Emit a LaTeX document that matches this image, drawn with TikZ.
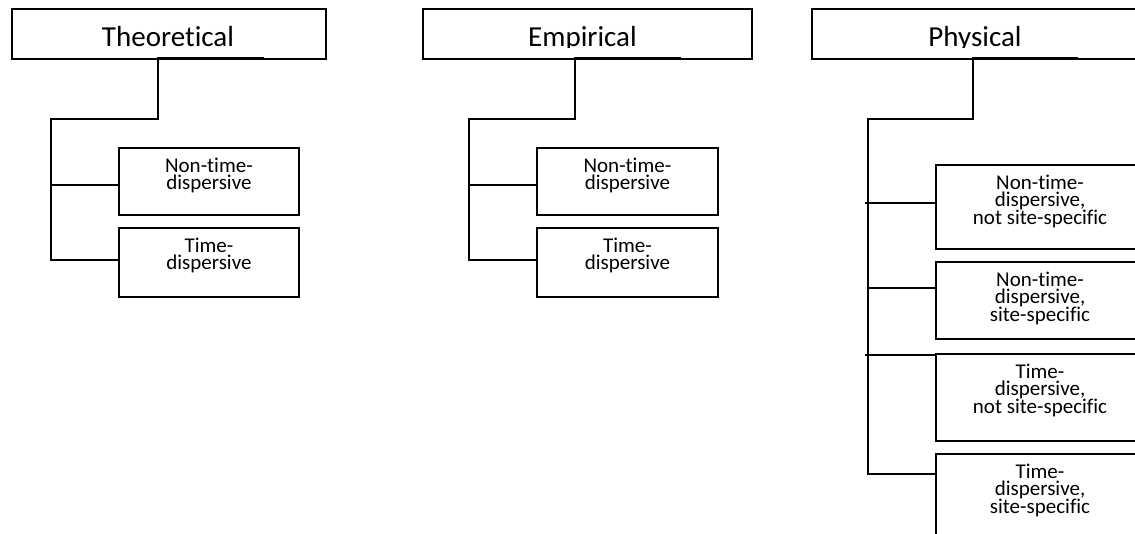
\documentclass[tikz,border=0pt]{standalone}
\usepackage{fontspec}
\setmainfont{Carlito}[Ligatures={NoCommon,NoContextual}]
\lineskiplimit=-100pt
\begin{document}
\begin{tikzpicture}[x=1pt,y=-1pt,
  box/.style={draw, line width=1.8pt, inner sep=0pt, anchor=north west},
  conn/.style={line width=1.8pt},
  titletext/.style={font={\fontsize{29}{34}\selectfont}, inner sep=0pt, anchor=base},
  subtext/.style={font={\fontsize{21}{17.8}\selectfont\lineskiplimit=-100pt\relax}, align=center, inner sep=0pt, anchor=north}]
\clip (0,0) rectangle (1135,534);
% ---------- title boxes ----------
\node[box, minimum width=314, minimum height=50] (T) at (11,8) {};
\node[box, minimum width=329, minimum height=50] (E) at (422,8) {};
\node[box, minimum width=400, minimum height=50] (P) at (811,8) {};
\begin{scope}
\clip (0,0) rectangle (1135,47.5);
\node[titletext] (Tt) at (168,47) {Theoretical};
\node[titletext] (Et) at (582.5,47) {Empirical};
\node[titletext] (Pt) at (975,47) {Physical};
\end{scope}
% ---------- Theoretical children ----------
\node[box, minimum width=180, minimum height=67] (T1) at (118,147) {};
\node[subtext] (T1t) at ([yshift=-10.5pt]T1.north) {Non-time-\\dispersive};
\node[box, minimum width=180, minimum height=69] (T2) at (118,227) {};
\node[subtext] (T2t) at ([yshift=-10.5pt]T2.north) {Time-\\dispersive};
% ---------- Empirical children ----------
\node[box, minimum width=181, minimum height=67] (E1) at (536,147) {};
\node[subtext] (E1t) at ([yshift=-10.5pt]E1.north) {Non-time-\\dispersive};
\node[box, minimum width=181, minimum height=69] (E2) at (536,227) {};
\node[subtext] (E2t) at ([yshift=-10.5pt]E2.north) {Time-\\dispersive};
% ---------- Physical children ----------
\node[box, minimum width=300, minimum height=84] (P1) at (935,164) {};
\node[subtext] (P1t) at (1040,174.5) {Non-time-\\dispersive,\\not site-specific};
\node[box, minimum width=300, minimum height=77] (P2) at (935,261) {};
\node[subtext] (P2t) at (1040,271.5) {Non-time-\\dispersive,\\site-specific};
\node[box, minimum width=300, minimum height=87] (P3) at (935,353) {};
\node[subtext] (P3t) at (1040,363.5) {Time-\\dispersive,\\not site-specific};
\node[box, minimum width=300, minimum height=120] (P4) at (935,453) {};
\node[subtext] (P4t) at (1040,463.5) {Time-\\dispersive,\\site-specific};
% ---------- connectors: Theoretical ----------
\coordinate (Ts) at (264,58);
\coordinate (Tk) at (158,119);
\coordinate (Tv) at (51,260);
\coordinate (Tb1) at (51,185);
\draw[conn] (Ts) -- (Ts -| Tk) -- (Tk) -- (Tk -| Tv) -- (Tv) -- (Tv -| T2.west);
\draw[conn] (Tb1) -- (Tb1 -| T1.west);
% ---------- connectors: Empirical ----------
\coordinate (Es) at (681,58);
\coordinate (Ek) at (575,119);
\coordinate (Ev) at (469,260);
\coordinate (Eb1) at (469,185);
\draw[conn] (Es) -- (Es -| Ek) -- (Ek) -- (Ek -| Ev) -- (Ev) -- (Ev -| E2.west);
\draw[conn] (Eb1) -- (Eb1 -| E1.west);
% ---------- connectors: Physical ----------
\coordinate (Ps) at (1078,58);
\coordinate (Pk) at (973,119);
\coordinate (Pv) at (868,474);
\coordinate (Pb1) at (865,203);
\coordinate (Pb2) at (868,288);
\coordinate (Pb3) at (865,355);
\draw[conn] (Ps) -- (Ps -| Pk) -- (Pk) -- (Pk -| Pv) -- (Pv) -- (Pv -| P4.west);
\draw[conn] (Pb1) -- (Pb1 -| P1.west);
\draw[conn] (Pb2) -- (Pb2 -| P2.west);
\draw[conn] (Pb3) -- (Pb3 -| P3.west);
\end{tikzpicture}
\end{document}
